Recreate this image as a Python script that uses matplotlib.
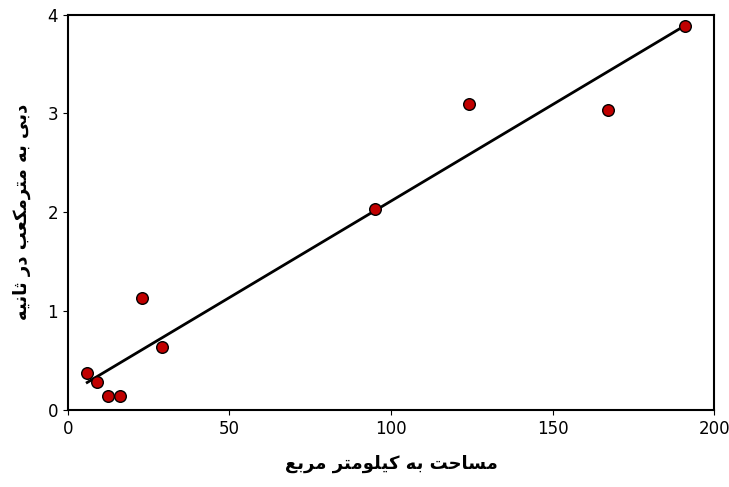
import matplotlib
matplotlib.use("Agg")
import matplotlib.pyplot as plt
import numpy as np

area = [6, 9, 12.5, 16, 23, 29, 95, 124, 167, 191]
discharge = [0.37, 0.28, 0.14, 0.14, 1.13, 0.64, 2.03, 3.10, 3.04, 3.88]
x_label = "مساحت به کیلومتر مربع"
y_label = "دبی به مترمکعب در ثانیه"

# simple Arabic/Persian shaping with presentation forms (iso, fin, ini, med)
FORMS = {
    'ا': ('\uFE8D', '\uFE8E', None, None),
    'ب': ('\uFE8F', '\uFE90', '\uFE91', '\uFE92'),
    'ت': ('\uFE95', '\uFE96', '\uFE97', '\uFE98'),
    'ث': ('\uFE99', '\uFE9A', '\uFE9B', '\uFE9C'),
    'ح': ('\uFEA1', '\uFEA2', '\uFEA3', '\uFEA4'),
    'د': ('\uFEA9', '\uFEAA', None, None),
    'ر': ('\uFEAD', '\uFEAE', None, None),
    'س': ('\uFEB1', '\uFEB2', '\uFEB3', '\uFEB4'),
    'ع': ('\uFEC9', '\uFECA', '\uFECB', '\uFECC'),
    'ل': ('\uFEDD', '\uFEDE', '\uFEDF', '\uFEE0'),
    'م': ('\uFEE1', '\uFEE2', '\uFEE3', '\uFEE4'),
    'ن': ('\uFEE5', '\uFEE6', '\uFEE7', '\uFEE8'),
    'ه': ('\uFEE9', '\uFEEA', '\uFEEB', '\uFEEC'),
    'و': ('\uFEED', '\uFEEE', None, None),
    'ک': ('\uFB8E', '\uFB8F', '\uFB90', '\uFB91'),
    'ی': ('\uFBFC', '\uFBFD', '\uFBFE', '\uFBFF'),
}

def shape(text):
    out = []
    for i, ch in enumerate(text):
        if ch not in FORMS:
            out.append(ch)
            continue
        prev = text[i - 1] if i > 0 else ' '
        nxt = text[i + 1] if i < len(text) - 1 else ' '
        join_prev = prev in FORMS and FORMS[prev][2] is not None
        join_next = nxt in FORMS and FORMS[ch][2] is not None
        iso, fin, ini, med = FORMS[ch]
        if join_prev and join_next:
            out.append(med)
        elif join_prev:
            out.append(fin)
        elif join_next:
            out.append(ini)
        else:
            out.append(iso)
    return ''.join(out)[::-1]

fig, ax = plt.subplots(figsize=(7.29, 4.87), dpi=100)
fig.subplots_adjust(left=0.093, right=0.98, top=0.97, bottom=0.158)

k, b = np.polyfit(area, discharge, 1)
xl = np.array([min(area), max(area)])
ax.plot(xl, k * xl + b, color='black', lw=2, zorder=2)
ax.scatter(area, discharge, s=70, color='#c00000', edgecolor='black', lw=1, zorder=3)

ax.set_xlim(0, 200)
ax.set_ylim(0, 4)
ax.set_xticks([0, 50, 100, 150, 200])
ax.set_yticks([0, 1, 2, 3, 4])
ax.tick_params(labelsize=12, direction='out')
for s in ax.spines.values():
    s.set_linewidth(1.5)
ax.set_xlabel(shape(x_label), fontsize=13, fontweight='bold', labelpad=12)
ax.set_ylabel(shape(y_label), fontsize=13, fontweight='bold', labelpad=12)

fig.savefig("out.png", dpi=100)
